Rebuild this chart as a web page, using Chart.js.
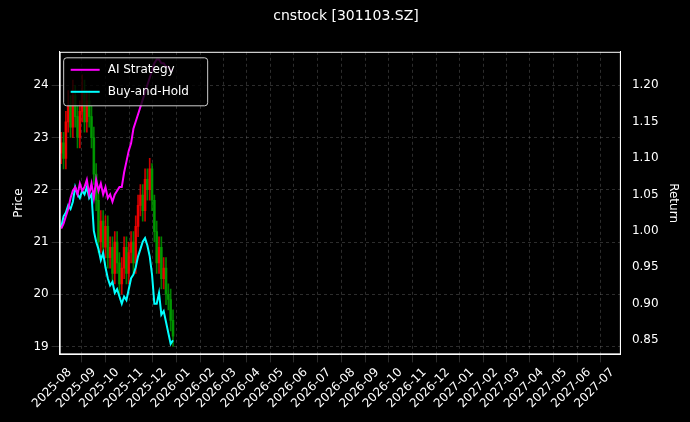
<!DOCTYPE html>
<html><head><meta charset="utf-8">
<script src="https://cdn.jsdelivr.net/npm/chart.js@4"></script>
<style>html,body{margin:0;background:#000}#wrap{width:690px;height:422px}</style>
</head><body><div id="wrap"><canvas id="c"></canvas></div>
<script>
const dates=["2025-07-21","2025-07-24","2025-07-27","2025-07-30","2025-08-02","2025-08-05","2025-08-08","2025-08-11","2025-08-14","2025-08-17","2025-08-20","2025-08-23","2025-08-26","2025-08-29","2025-09-01","2025-09-04","2025-09-07","2025-09-10","2025-09-13","2025-09-16","2025-09-19","2025-09-22","2025-09-25","2025-09-28","2025-10-01","2025-10-04","2025-10-07","2025-10-10","2025-10-13","2025-10-16","2025-10-19","2025-10-22","2025-10-25","2025-10-28","2025-10-31","2025-11-03","2025-11-06","2025-11-09","2025-11-12","2025-11-15","2025-11-18","2025-11-21","2025-11-24","2025-11-27","2025-11-30","2025-12-03","2025-12-06","2025-12-09","2025-12-12"]
const opens=[22.7,22.9,22.6,23.3,23.6,23.2,23.8,23.4,23.0,23.5,23.9,23.3,23.7,23.4,23.0,22.3,21.8,21.0,21.4,20.9,21.3,20.7,20.9,20.4,21.0,20.6,20.2,20.5,20.9,20.4,20.8,21.0,20.6,21.3,21.7,21.9,21.6,22.2,22.0,22.4,21.8,21.2,20.6,20.9,20.3,20.5,20.0,19.9,19.5]
const closes=[22.9,22.6,23.3,23.6,23.2,23.8,23.4,23.0,23.5,23.9,23.3,23.7,23.4,23.0,22.3,21.8,21.0,21.4,20.9,21.3,20.7,20.9,20.4,21.0,20.6,20.2,20.5,20.9,20.4,20.8,21.0,20.6,21.3,21.7,21.9,21.6,22.2,22.0,22.4,21.8,21.2,20.6,20.9,20.3,20.5,20.0,19.9,19.5,19.2]
const highs=[23.1,23.1,23.5,23.9,23.8,24.1,24.0,23.6,23.7,24.2,24.1,23.9,23.9,23.6,23.2,22.5,22.0,21.6,21.6,21.5,21.5,21.1,21.1,21.2,21.2,20.8,20.7,21.1,21.1,21.0,21.2,21.2,21.5,21.9,22.1,22.1,22.4,22.4,22.6,22.5,21.9,21.4,21.1,21.1,20.7,20.7,20.2,20.1,19.7]
const lows=[22.5,22.4,22.4,23.1,23.0,23.0,23.2,22.8,22.8,23.3,23.1,23.1,23.2,22.8,22.1,21.6,20.8,20.8,20.7,20.7,20.5,20.5,20.2,20.2,20.4,20.0,20.0,20.3,20.2,20.2,20.6,20.4,20.4,21.1,21.5,21.4,21.4,21.8,21.8,21.6,21.0,20.4,20.4,20.1,20.1,19.8,19.7,19.3,19.0]
const aiReturn=[1.003,1.01,1.02,1.03,1.045,1.055,1.06,1.05,1.065,1.055,1.06,1.07,1.05,1.065,1.045,1.07,1.055,1.065,1.05,1.06,1.045,1.05,1.04,1.05,1.055,1.06,1.06,1.08,1.095,1.11,1.12,1.14,1.15,1.16,1.17,1.18,1.19,1.2,1.21,1.22,1.23,1.235,1.235,1.23,1.23,1.225,1.225,1.22,1.22]
const bhReturn=[1.005,1.02,1.025,1.035,1.03,1.04,1.06,1.05,1.045,1.055,1.05,1.06,1.045,1.05,1.0,0.985,0.975,0.96,0.97,0.95,0.935,0.925,0.93,0.915,0.92,0.91,0.9,0.91,0.905,0.92,0.935,0.94,0.95,0.965,0.975,0.985,0.99,0.98,0.965,0.94,0.9,0.9,0.915,0.885,0.89,0.875,0.86,0.845,0.85]
const monthTicks=["2025-08","2025-09","2025-10","2025-11","2025-12","2026-01","2026-02","2026-03","2026-04","2026-05","2026-06","2026-07","2026-08","2026-09","2026-10","2026-11","2026-12","2027-01","2027-02","2027-03","2027-04","2027-05","2027-06","2027-07"]
const seriesNames=["AI Strategy","Buy-and-Hold"]
const seriesColors=["#ff00ff","#00ffff"]

const day=s=>Date.parse(s.length==7?s+"-01":s)/86400000
const xs=dates.map(day)
const upDown=ctx=>{const i=ctx.dataIndex;return closes[i]>=opens[i]?"rgba(255,0,0,0.8)":"rgba(0,160,0,0.8)"}
const grid={color:"rgba(150,150,150,0.5)",lineWidth:0.6}
const border={color:"#fff",dash:[3,3]}
const font={family:"DejaVu Sans",size:12}

// legend drawn by hand inside the plot, top-left like the original
const boxLegend={id:"boxLegend",afterDraw:c=>{
  const g=c.ctx,a=c.chartArea,x=a.left+4,y=a.top+6
  g.save()
  g.fillStyle="rgba(0,0,0,0.8)";g.strokeStyle="#ccc";g.lineWidth=1
  g.beginPath();g.roundRect(x,y,144,48,3);g.fill();g.stroke()
  g.font="12px DejaVu Sans";g.textBaseline="middle"
  seriesNames.forEach((n,i)=>{
    const ly=y+12+i*22
    g.strokeStyle=seriesColors[i];g.lineWidth=2
    g.beginPath();g.moveTo(x+7,ly);g.lineTo(x+36,ly);g.stroke()
    g.fillStyle="#fff";g.fillText(n,x+44,ly)
  })
  g.strokeStyle="#fff";g.lineWidth=1;g.strokeRect(a.left+0.5,a.top+0.5,a.right-a.left-1,a.bottom-a.top-1)
  g.restore()
}}

new Chart("c",{
  data:{datasets:[
    {type:"bar",data:xs.map((x,i)=>({x,y:[lows[i],highs[i]]})),backgroundColor:upDown,barThickness:1,yAxisID:"y",grouped:false,order:3},
    {type:"bar",data:xs.map((x,i)=>({x,y:[opens[i],closes[i]]})),backgroundColor:upDown,barThickness:2,yAxisID:"y",grouped:false,order:3},
    {type:"line",label:seriesNames[0],data:xs.map((x,i)=>({x,y:aiReturn[i]})),borderColor:seriesColors[0],borderWidth:2,pointRadius:0,yAxisID:"y2",order:1},
    {type:"line",label:seriesNames[1],data:xs.map((x,i)=>({x,y:bhReturn[i]})),borderColor:seriesColors[1],borderWidth:2,pointRadius:0,yAxisID:"y2",order:1}
  ]},
  options:{responsive:true,maintainAspectRatio:false,animation:false,
    layout:{padding:{left:8,right:6,top:0,bottom:8}},
    plugins:{
      title:{display:true,text:"cnstock [301103.SZ]",color:"#fff",font:{family:"DejaVu Sans",size:14,weight:"normal"},padding:{top:8,bottom:27}},
      legend:{display:false},
      tooltip:{enabled:false}
    },
    scales:{
      x:{type:"linear",offset:false,min:day("2025-07-19"),max:day("2027-07-12"),
        afterBuildTicks:ax=>{ax.ticks=monthTicks.map(m=>({value:day(m)}))},
        ticks:{color:"#fff",font,minRotation:45,maxRotation:45,autoSkip:false,callback:v=>{const d=new Date(v*86400000);return d.getUTCFullYear()+"-"+String(d.getUTCMonth()+1).padStart(2,"0")}},
        grid,border},
      y:{position:"left",min:18.85,max:24.64,afterBuildTicks:ax=>{ax.ticks=[19,20,21,22,23,24].map(v=>({value:v}))},
        title:{display:true,text:"Price",color:"#fff",font},ticks:{color:"#fff",font},grid,border},
      y2:{position:"right",min:0.8306,max:1.2456,afterBuildTicks:ax=>{ax.ticks=[0.85,0.9,0.95,1.0,1.05,1.1,1.15,1.2].map(v=>({value:v}))},
        title:{display:true,text:"Return",color:"#fff",font},ticks:{color:"#fff",font,callback:v=>v.toFixed(2)},grid:{display:false},border:{color:"#fff"}}
    }
  },
  plugins:[{id:"bg",beforeDraw:c=>{const g=c.ctx;g.save();g.fillStyle="#000";g.fillRect(0,0,c.width,c.height);g.restore()}},boxLegend]
})
</script></body></html>
